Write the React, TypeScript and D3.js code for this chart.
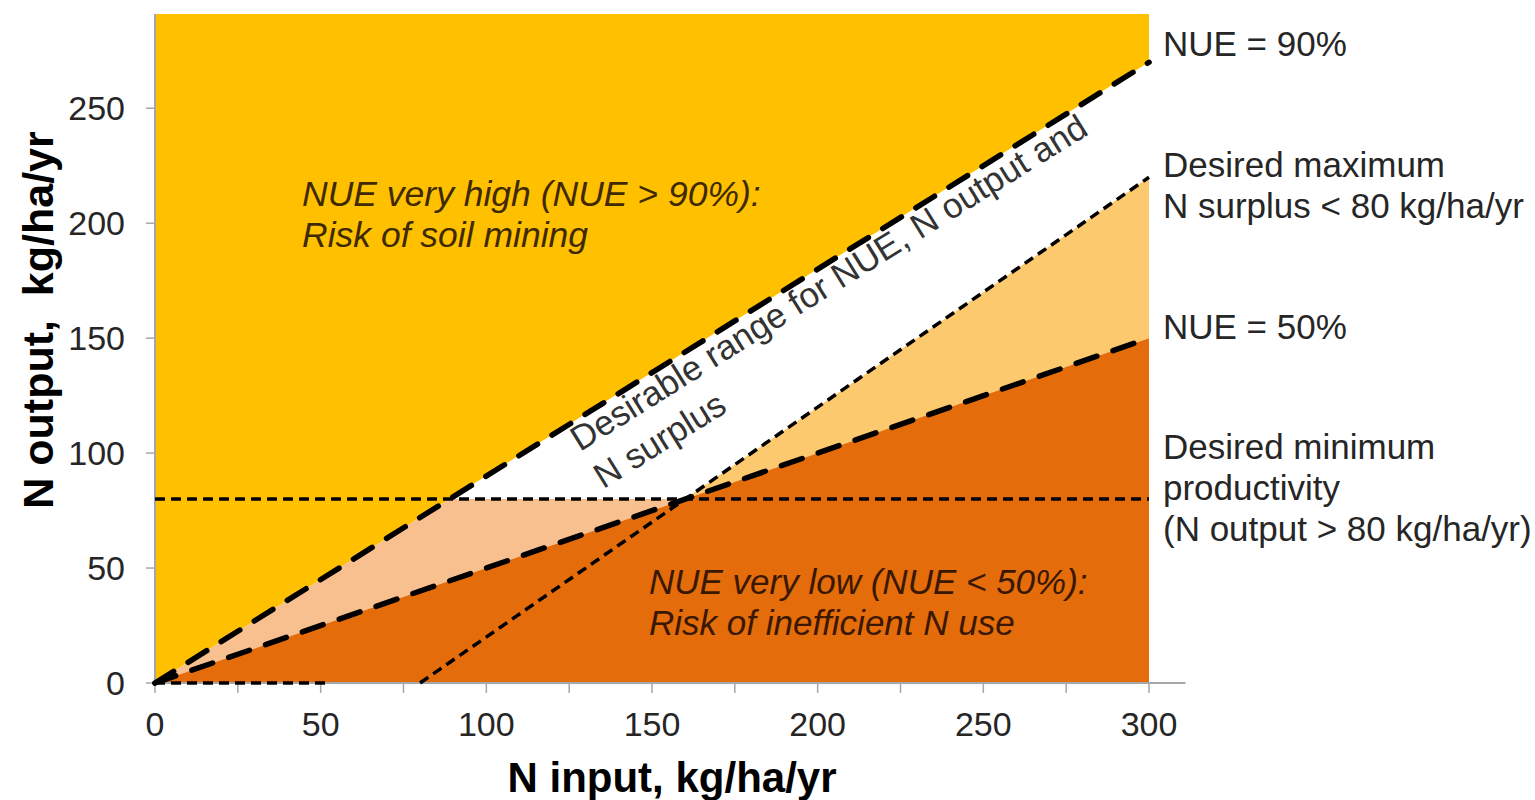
import React from "react";
import * as d3 from "d3";

// ---- data (N input x, N output y, kg/ha/yr) ----
const xTicksMajor = [0, 50, 100, 150, 200, 250, 300];
const xTicksMinor = [0, 25, 50, 75, 100, 125, 150, 175, 200, 225, 250, 275, 300];
const yTicks = [0, 50, 100, 150, 200, 250];

const nue90Line = [[0, 0], [300, 270]];
const nue50Line = [[0, 0], [300, 150]];
const surplusLine = [[80, 0], [300, 220]];
const surplusBase = [[0, 0], [52, 0]];
const minOutputLine = [[0, 80], [300, 80]];

// zones (polygons in data units)
const zoneVeryHigh = [[0, 0], [300, 270], [300, 291], [0, 291]];
const zoneLowBelow80 = [[0, 0], [88.9, 80], [160, 80]];
const zoneDesirable = [[88.9, 80], [300, 270], [300, 220], [160, 80]];
const zoneSurplusHigh = [[160, 80], [300, 220], [300, 150]];
const zoneVeryLow = [[0, 0], [300, 150], [300, 0]];

const rightLabels = [
  ["NUE = 90%"],
  ["Desired maximum", "N surplus < 80 kg/ha/yr"],
  ["NUE = 50%"],
  ["Desired minimum", "productivity", "(N output > 80 kg/ha/yr)"],
];
const rightLabelBaselines = [56, 177, 339, 459];

const FONT = "'Liberation Sans', Arial, Helvetica, sans-serif";

export default function App() {
  const W = 1535, H = 800;
  const x = d3.scaleLinear().domain([0, 300]).range([155, 1149]);
  const y = d3.scaleLinear().domain([0, 291]).range([683, 14]);
  const line = d3.line<number[]>().x((d) => x(d[0])).y((d) => y(d[1]));
  const poly = (pts: number[][]) => line(pts) + "Z";

  const longDash = { stroke: "#000", strokeWidth: 5.5, strokeDasharray: "22 17", strokeLinecap: "round" as const, fill: "none" };
  const shortDash = { stroke: "#000", strokeWidth: 3.5, strokeDasharray: "10 6", fill: "none" };

  const angle = (Math.atan2(y(0) - y(270), x(300) - x(0)) * 180) / Math.PI;

  return (
    <svg width={W} height={H} style={{ position: "absolute", left: 0, top: 0, background: "#fff" }} fontFamily={FONT}>
      {/* zones */}
      <path d={poly(zoneVeryHigh)} fill="#FFC000" />
      <path d={poly(zoneLowBelow80)} fill="#F8C08E" />
      <path d={poly(zoneDesirable)} fill="#FFFFFF" />
      <path d={poly(zoneSurplusHigh)} fill="#FDC96E" />
      <path d={poly(zoneVeryLow)} fill="#E46C0A" />

      {/* axes */}
      <line x1={x(0)} x2={x(311)} y1={y(0)} y2={y(0)} stroke="#A6A6A6" strokeWidth={2} />
      <line x1={x(0)} x2={x(0)} y1={y(0)} y2={y(291)} stroke="#A6A6A6" strokeWidth={2} />
      {xTicksMinor.map((t) => (
        <line key={"xm" + t} x1={x(t)} x2={x(t)} y1={y(0)} y2={y(0) + 10} stroke="#A6A6A6" strokeWidth={1.5} />
      ))}
      {yTicks.map((t) => (
        <line key={"yt" + t} x1={x(0) - 9} x2={x(0)} y1={y(t)} y2={y(t)} stroke="#A6A6A6" strokeWidth={1.5} />
      ))}
      {xTicksMajor.map((t) => (
        <text key={"xl" + t} x={x(t)} y={736} textAnchor="middle" fontSize={34} fill="#262626">{t}</text>
      ))}
      {yTicks.map((t) => (
        <text key={"yl" + t} x={125} y={y(t) + 12} textAnchor="end" fontSize={34} fill="#262626">{t}</text>
      ))}

      {/* lines */}
      <path d={line(minOutputLine)!} {...shortDash} />
      <path d={line(surplusLine)!} {...shortDash} />
      <path d={line(surplusBase)!} {...shortDash} />
      <path d={line(nue50Line)!} {...longDash} />
      <path d={line(nue90Line)!} {...longDash} />

      {/* axis titles */}
      <text x={672} y={792} textAnchor="middle" fontSize={42} fontWeight="bold" fill="#000">N input, kg/ha/yr</text>
      <text transform={`translate(53,320) rotate(-90)`} textAnchor="middle" fontSize={43} fontWeight="bold" fill="#000" style={{ whiteSpace: "pre" }}>N output,  kg/ha/yr</text>

      {/* zone labels */}
      <text x={302} y={206} fontSize={35.5} fontStyle="italic" fill="#3F2A00">
        <tspan x={302}>NUE very high (NUE &gt; 90%):</tspan>
        <tspan x={302} dy={41}>Risk of soil mining</tspan>
      </text>
      <text x={649} y={594} fontSize={35} fontStyle="italic" fill="#3A1800">
        <tspan x={649}>NUE very low (NUE &lt; 50%):</tspan>
        <tspan x={649} dy={41}>Risk of inefficient N use</tspan>
      </text>
      <g transform={`translate(580,452) rotate(${-angle})`}>
        <text x={0} y={0} fontSize={35} fill="#333">Desirable range for NUE, N output and</text>
        <text x={0} y={44} fontSize={35} fill="#333">N surplus</text>
      </g>

      {/* right labels */}
      {rightLabels.map((g, i) => (
        <text key={"rl" + i} x={1163} y={rightLabelBaselines[i]} fontSize={35} fill="#262626">
          {g.map((s, j) => (
            <tspan key={j} x={1163} dy={j === 0 ? 0 : 41}>{s}</tspan>
          ))}
        </text>
      ))}
    </svg>
  );
}
